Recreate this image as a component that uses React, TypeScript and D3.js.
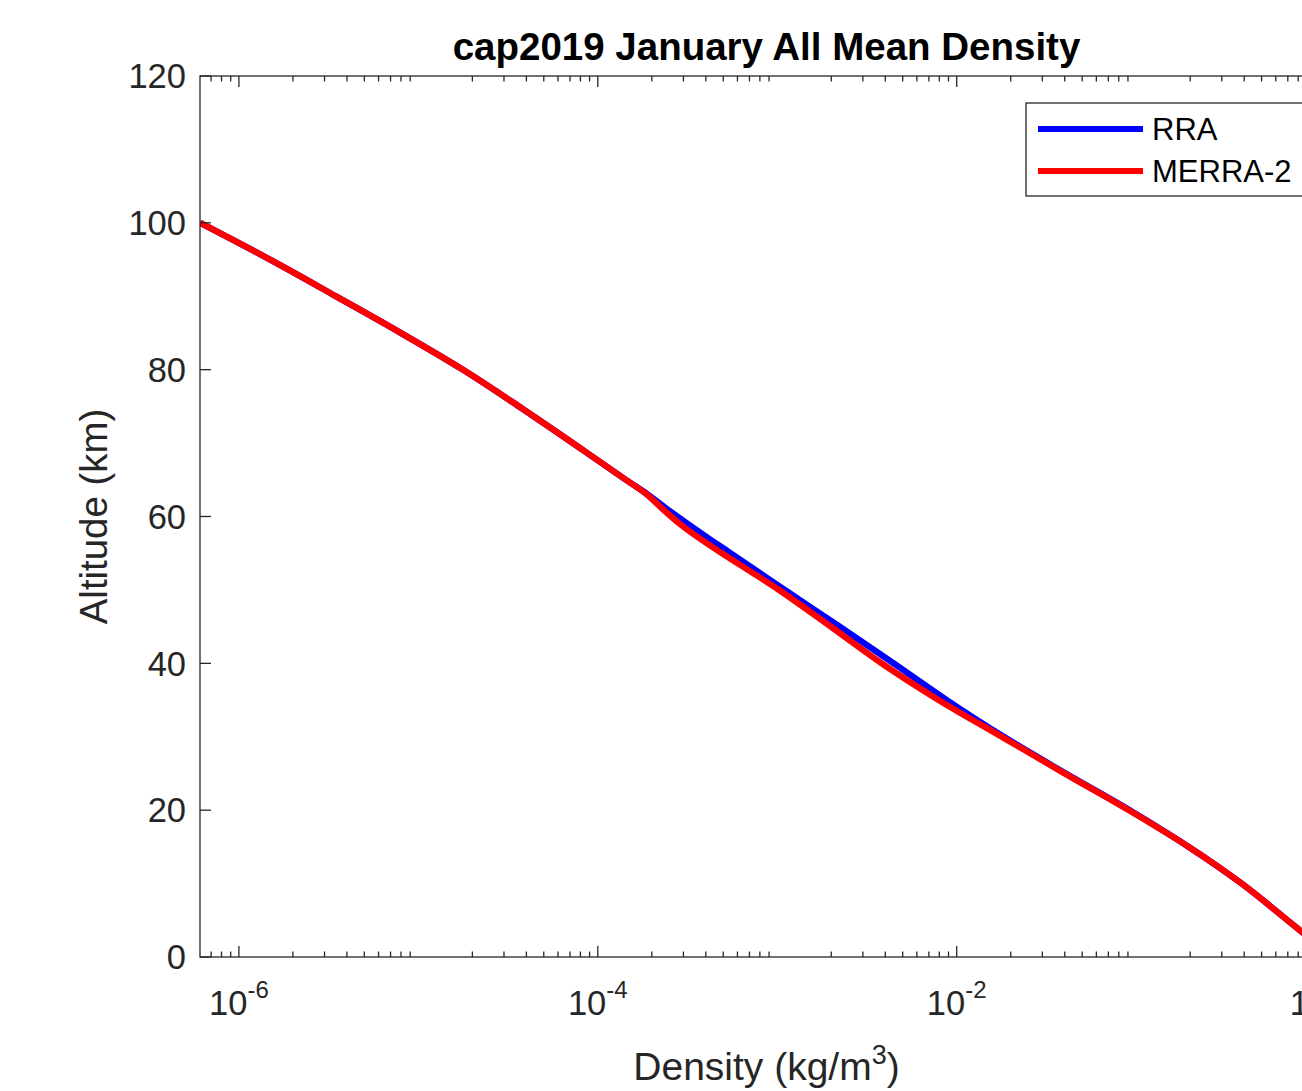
import React from "react";
import * as d3 from "d3";

// altitude grid (km) and mean densities (kg/m^3)
const altitudes = [0, 5, 10, 15, 20, 25, 30, 35, 40, 45, 50, 55, 57, 59, 61, 63, 65, 70, 75, 80, 85, 90, 95, 100];
const rraDensity = [1.25, 0.698, 0.387, 0.1961, 0.092, 0.0405, 0.01827, 8.796e-3, 4.457e-3, 2.229e-3, 1.101e-3, 5.506e-4, 4.154e-4, 3.173e-4, 2.438e-4, 1.9e-4, 1.432e-4, 7.26e-5, 3.63e-5, 1.77e-5, 7.99e-6, 3.47e-6, 1.488e-6, 6.07e-7];
const merraDensity = [1.25, 0.698, 0.387, 0.1961, 0.0908, 0.03996, 0.01781, 7.937e-3, 3.822e-3, 1.987e-3, 1.02e-3, 4.907e-4, 3.701e-4, 2.862e-4, 2.302e-4, 1.875e-4, 1.432e-4, 7.26e-5, 3.63e-5, 1.77e-5, 7.99e-6, 3.47e-6, 1.488e-6, 6.07e-7];

const seriesNames = ["RRA", "MERRA-2"];
const seriesColors = ["#0000ff", "#ff0000"];
const yTicks = [0, 20, 40, 60, 80, 100, 120];
const xMajorExps = [-6, -4, -2, 0];

const W = 1302, H = 1091;
const left = 200, top = 76, right = 1333, bottom = 957;
const axisColor = "#262626";
const font = "'Liberation Sans', Arial, Helvetica, sans-serif";

export default function App() {
  const x = d3.scaleLog().domain([6.07e-7, 1.25]).range([left, right]);
  const y = d3.scaleLinear().domain([0, 120]).range([bottom, top]);

  const line = d3.line<[number, number]>()
    .x(d => x(d[0]))
    .y(d => y(d[1]))
    .curve(d3.curveCatmullRom.alpha(0.5));

  const rraPts = altitudes.map((a, i) => [rraDensity[i], a] as [number, number]);
  const merraPts = altitudes.map((a, i) => [merraDensity[i], a] as [number, number]);

  // minor ticks 2..9 x 10^k within domain
  const minor: number[] = [];
  for (let e = -7; e <= 0; e++) {
    for (let m = 2; m <= 9; m++) {
      const v = m * Math.pow(10, e);
      if (v > 6.07e-7 && v < 1.25) minor.push(v);
    }
  }

  return (
    <svg width={W} height={H} style={{ position: "absolute", left: 0, top: 0, background: "#fff" }} fontFamily={font}>
      <defs>
        <clipPath id="plotClip">
          <rect x={left} y={top} width={right - left} height={bottom - top} />
        </clipPath>
      </defs>
      <rect x={0} y={0} width={W} height={H} fill="#fff" />

      {/* curves */}
      <g clipPath="url(#plotClip)" fill="none" strokeWidth={6.2} strokeLinejoin="round">
        <path d={line(rraPts) || ""} stroke={seriesColors[0]} />
        <path d={line(merraPts) || ""} stroke={seriesColors[1]} />
      </g>

      {/* axes box */}
      <rect x={left} y={top} width={right - left} height={bottom - top} fill="none" stroke={axisColor} strokeWidth={1.3} />

      {/* ticks */}
      <g stroke={axisColor} strokeWidth={1.3}>
        {minor.map((v, i) => (
          <g key={"m" + i}>
            <line x1={x(v)} x2={x(v)} y1={bottom} y2={bottom - 5.5} />
            <line x1={x(v)} x2={x(v)} y1={top} y2={top + 5.5} />
          </g>
        ))}
        {xMajorExps.map(e => (
          <g key={"M" + e}>
            <line x1={x(Math.pow(10, e))} x2={x(Math.pow(10, e))} y1={bottom} y2={bottom - 11} />
            <line x1={x(Math.pow(10, e))} x2={x(Math.pow(10, e))} y1={top} y2={top + 11} />
          </g>
        ))}
        {yTicks.map(t => (
          <line key={"y" + t} x1={left} x2={left + 11} y1={y(t)} y2={y(t)} />
        ))}
      </g>

      {/* x tick labels */}
      <g fill={axisColor} fontSize={34.5}>
        {xMajorExps.map(e => (
          <text key={"xl" + e} x={x(Math.pow(10, e))} y={1015} textAnchor="middle">
            10<tspan fontSize={24} dy={-17}>{e}</tspan>
          </text>
        ))}
      </g>

      {/* y tick labels */}
      <g fill={axisColor} fontSize={34.5} textAnchor="end">
        {yTicks.map(t => (
          <text key={"yl" + t} x={186} y={y(t) + 12.3}>{t}</text>
        ))}
      </g>

      {/* axis labels */}
      <text x={(left + right) / 2} y={1080} textAnchor="middle" fontSize={39} fill={axisColor}>
        Density (kg/m<tspan fontSize={27} dy={-16}>3</tspan><tspan dy={16}>)</tspan>
      </text>
      <text transform={`translate(107,${(top + bottom) / 2}) rotate(-90)`} textAnchor="middle" fontSize={38.4} fill={axisColor}>
        Altitude (km)
      </text>

      {/* title */}
      <text x={(left + right) / 2} y={60} textAnchor="middle" fontSize={38.5} fontWeight="bold" fill="#000">
        cap2019 January All Mean Density
      </text>

      {/* legend */}
      <g>
        <rect x={1026} y={103} width={300} height={93} fill="#fff" stroke={axisColor} strokeWidth={1.3} />
        {seriesNames.map((n, i) => (
          <g key={n}>
            <line x1={1038} x2={1143} y1={129 + i * 42} y2={129 + i * 42} stroke={seriesColors[i]} strokeWidth={6} />
            <text x={1152} y={140 + i * 42} fontSize={31} fill="#000">{n}</text>
          </g>
        ))}
      </g>
    </svg>
  );
}
